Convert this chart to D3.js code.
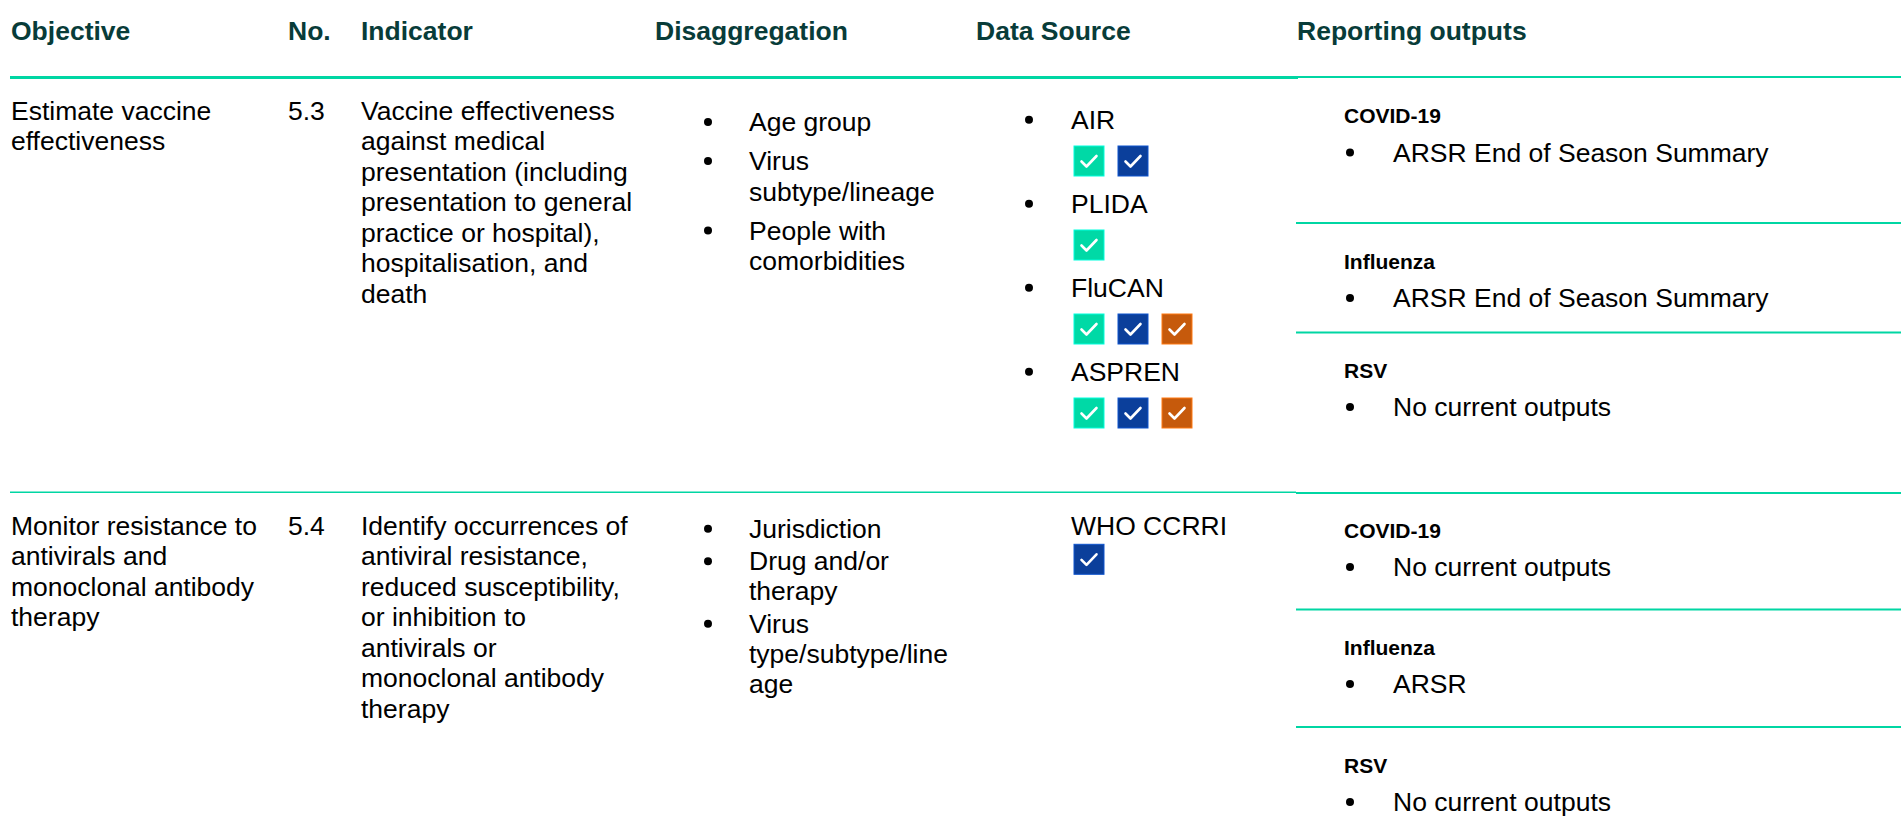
<!DOCTYPE html>
<html>
<head>
<meta charset="utf-8">
<script src="https://cdn.jsdelivr.net/npm/d3@7"></script>
<style>
  html, body { margin: 0; padding: 0; background: #ffffff; }
  svg { display: block; }
  text { font-family: "Liberation Sans", Arial, Helvetica, sans-serif; }
</style>
</head>
<body>
<div id="chart"></div>
<script>
// ---------------- DATA ----------------
const columns = ["Objective", "No.", "Indicator", "Disaggregation", "Data Source", "Reporting outputs"];

const objectives = [
  ["Estimate vaccine", "effectiveness"],
  ["Monitor resistance to", "antivirals and", "monoclonal antibody", "therapy"]
];

const numbers = ["5.3", "5.4"];

const indicators = [
  ["Vaccine effectiveness", "against medical", "presentation (including", "presentation to general",
   "practice or hospital),", "hospitalisation, and", "death"],
  ["Identify occurrences of", "antiviral resistance,", "reduced susceptibility,", "or inhibition to",
   "antivirals or", "monoclonal antibody", "therapy"]
];

const disaggregations = [
  [["Age group"], ["Virus", "subtype/lineage"], ["People with", "comorbidities"]],
  [["Jurisdiction"], ["Drug and/or", "therapy"], ["Virus", "type/subtype/line", "age"]]
];

const pathogens = ["COVID-19", "Influenza", "RSV"];

const dataSourceNames = [
  ["AIR", "PLIDA", "FluCAN", "ASPREN"],
  ["WHO CCRRI"]
];
const dataSourceChecks = [
  [["COVID-19", "Influenza"], ["COVID-19"], ["COVID-19", "Influenza", "RSV"], ["COVID-19", "Influenza", "RSV"]],
  [["Influenza"]]
];
const dataSourceBulleted = [true, false];

const reportingOutputs = [
  [["ARSR End of Season Summary"], ["ARSR End of Season Summary"], ["No current outputs"]],
  [["No current outputs"], ["ARSR"], ["No current outputs"]]
];

// ---------------- LAYOUT / STYLE ----------------
const W = 1901, H = 837;
const FONT = 26.5, SUBFONT = 21;
const HEAD_COLOR = "#083c39";
const LINE_COLOR = "#00d6a3";

const colX = d3.scaleOrdinal().domain(columns).range([11, 288, 361, 655, 976, 1297]);
const pathogenColor = d3.scaleOrdinal().domain(pathogens).range(["#00d9a6", "#0b3f9b", "#c65a0c"]);
const checkSlot = d3.scaleLinear().domain([0, 1]).range([1074, 1118]);

const headerBaseline = 40;
const rowTops = [77.5, 492];
const sectionTops = [[77.5, 223, 332], [492, 609, 727]];
const rowParams = [
  { textFirst: 42, lineH: 30.5, disFirst: 53.5, disLine: 30.5, disGap: 8.5, dsFirst: 51.3, dsPitch: 84, boxOff: 17.2 },
  { textFirst: 42.5, lineH: 30.5, disFirst: 45.8, disLine: 30, disGap: 2.5, dsFirst: 42.5, dsPitch: 84, boxOff: 9.8 }
];
const bulletX = { dis: 708, ds: 1029, rep: 1350 };
const textX = { dis: 749, ds: 1071, repLabel: 1344, rep: 1393 };
const BOX = 30;

const svg = d3.select("#chart").append("svg").attr("width", W).attr("height", H);

// header
svg.append("g").selectAll("text").data(columns).join("text")
  .attr("x", d => colX(d)).attr("y", headerBaseline)
  .attr("font-size", FONT).attr("font-weight", "bold").attr("fill", HEAD_COLOR)
  .text(d => d);

// horizontal rules
const rules = [
  { x1: 10, x2: 1298, y: 77.5, w: 3 },
  { x1: 1298, x2: W, y: 77, w: 2 },
  { x1: 10, x2: 1296, y: 492.3, w: 1.5 },
  { x1: 1296, x2: W, y: 493, w: 2.2 },
  { x1: 1296, x2: W, y: 223, w: 2.2 },
  { x1: 1296, x2: W, y: 332.5, w: 2.2 },
  { x1: 1296, x2: W, y: 609.5, w: 2.2 },
  { x1: 1296, x2: W, y: 727, w: 2.2 }
];
svg.append("g").selectAll("line").data(rules).join("line")
  .attr("x1", d => d.x1).attr("x2", d => d.x2)
  .attr("y1", d => d.y).attr("y2", d => d.y)
  .attr("stroke", LINE_COLOR).attr("stroke-width", d => d.w);

function multiline(g, lines, x, y0, lh) {
  g.selectAll(null).data(lines).join("text")
    .attr("x", x).attr("y", (d, i) => y0 + i * lh)
    .attr("font-size", FONT).attr("fill", "#000")
    .text(d => d);
}

function bullet(g, x, baseline) {
  g.append("circle").attr("cx", x).attr("cy", baseline - 9).attr("r", 4).attr("fill", "#000");
}

function checkbox(g, x, y, color) {
  const b = g.append("g").attr("transform", `translate(${x},${y})`);
  b.append("rect").attr("width", BOX).attr("height", BOX).attr("fill", color)
    .attr("stroke", d3.color(color).brighter(0.8)).attr("stroke-width", 1);
  b.append("path").attr("d", "M7.5,15.5 L12.5,20.5 L22.5,10")
    .attr("fill", "none").attr("stroke", "#fff").attr("stroke-width", 2.6)
    .attr("stroke-linecap", "round").attr("stroke-linejoin", "round");
}

rowTops.forEach((top, r) => {
  const p = rowParams[r];
  const g = svg.append("g");
  const base = top + p.textFirst;

  multiline(g.append("g"), objectives[r], colX("Objective"), base, p.lineH);
  multiline(g.append("g"), [numbers[r]], colX("No."), base, p.lineH);
  multiline(g.append("g"), indicators[r], colX("Indicator"), base, p.lineH);

  // disaggregation
  let y = top + p.disFirst;
  disaggregations[r].forEach(item => {
    bullet(g, bulletX.dis, y);
    multiline(g.append("g"), item, textX.dis, y, p.disLine);
    y += item.length * p.disLine + p.disGap;
  });

  // data sources
  dataSourceNames[r].forEach((name, i) => {
    const yb = top + p.dsFirst + i * p.dsPitch;
    if (dataSourceBulleted[r]) bullet(g, bulletX.ds, yb);
    multiline(g.append("g"), [name], textX.ds, yb, p.lineH);
    dataSourceChecks[r][i].forEach((pg, k) => {
      checkbox(g, checkSlot(k), yb + p.boxOff, pathogenColor(pg));
    });
  });

  // reporting outputs
  sectionTops[r].forEach((st, s) => {
    g.append("text").attr("x", textX.repLabel).attr("y", st + 45.5)
      .attr("font-size", SUBFONT).attr("font-weight", "bold").attr("fill", "#000")
      .text(pathogens[s]);
    reportingOutputs[r][s].forEach((out, k) => {
      const yb = st + 84 + k * p.lineH;
      bullet(g, bulletX.rep, yb);
      multiline(g.append("g"), [out], textX.rep, yb, p.lineH);
    });
  });
});
</script>
</body>
</html>
